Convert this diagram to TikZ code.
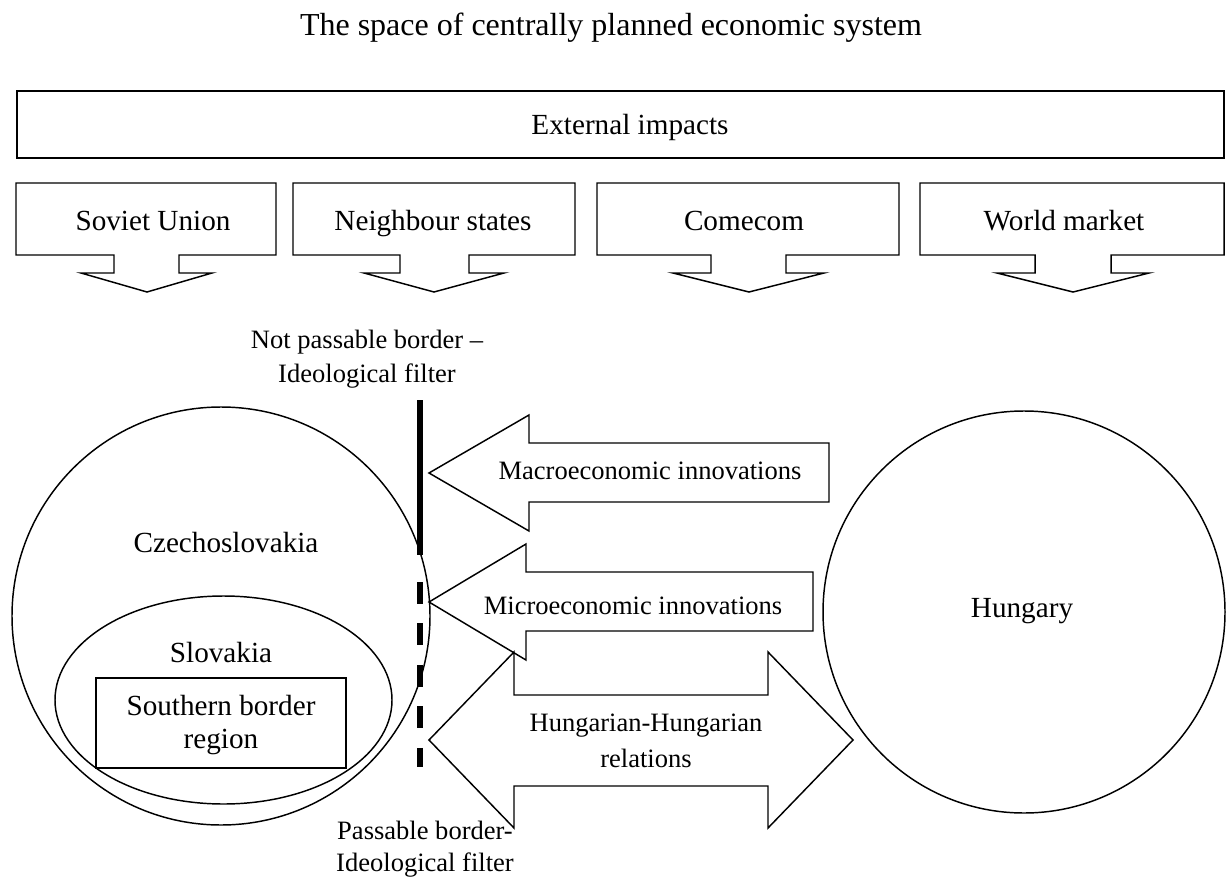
\documentclass[tikz,border=0pt]{standalone}
\usepackage{fontspec}
\setmainfont{Liberation Serif}
\usetikzlibrary{shapes.geometric}
\newcommand\titlesz{\fontsize{24}{28}\selectfont}
\newcommand\mainsz{\fontsize{21.9}{26}\selectfont}
\newcommand\smallsz{\fontsize{19.9}{24}\selectfont}
\tikzset{
  outl/.style={draw, line width=1.1pt, line join=miter},
  lblmain/.style={anchor=base, inner sep=0pt, font=\mainsz},
  lblsmall/.style={anchor=base, inner sep=0pt, font=\smallsz},
  wall/.style={line width=4.5pt},
  dashwall/.style={line width=4.5pt, dash pattern=on 16.5pt off 14.6pt},
}
\begin{document}
\begin{tikzpicture}[x=0.75pt,y=-0.75pt]
\useasboundingbox (0,0) rectangle (1226,877);
% title
\node[anchor=base, inner sep=0pt, font=\titlesz] (title) at (611,36) {The space of centrally planned economic system};
% external impacts
\draw[outl] (17,91) rectangle (1224,158);
\node[lblmain] (ext) at (630,135) {External impacts};
% callouts
\draw[outl] (16,183) -- (276,183) -- (276,255) -- (179,255) -- (179,273) -- (212,273) -- (147,292) -- (81,273) -- (114,273) -- (114,255) -- (16,255) -- cycle;
\node[lblmain] (su) at (153,230) {Soviet Union};
\draw[outl] (293,183) -- (575,183) -- (575,255) -- (469,255) -- (469,273) -- (504,273) -- (434,292) -- (364,273) -- (400,273) -- (400,255) -- (293,255) -- cycle;
\node[lblmain] (ns) at (433,230) {Neighbour states};
\draw[outl] (597,183) -- (899,183) -- (899,255) -- (786,255) -- (786,273) -- (824,273) -- (749,292) -- (673,273) -- (711,273) -- (711,255) -- (597,255) -- cycle;
\node[lblmain] (cm) at (744,230) {Comecom};
\draw[outl] (920,183) -- (1224,183) -- (1224,255) -- (1111,255) -- (1111,273) -- (1149,273) -- (1073,292) -- (997,273) -- (1035,273) -- (1035,255) -- (920,255) -- cycle;
\node[lblmain] (wm) at (1064,230) {World market};
% border labels
\node[lblsmall] (np1) at (367,348) {Not passable border –};
\node[lblsmall] (np2) at (367,382) {Ideological filter};
\node[lblsmall] (pb1) at (425,839) {Passable border-};
\node[lblsmall] (pb2) at (425,871) {Ideological filter};
% Czechoslovakia
\node[outl, circle, minimum size=313.5pt, inner sep=0pt] (cz) at (221,616) {};
\node[lblmain] (czl) at (226,552) {Czechoslovakia};
\node[outl, ellipse, minimum width=252.75pt, minimum height=156pt, inner sep=0pt] (sk) at (223.5,700) {};
\node[lblmain] (skl) at (221,662) {Slovakia};
\draw[outl] (96,678) rectangle (346,768);
\node[lblmain] (sb1) at (221,715) {Southern border};
\node[lblmain] (sb2) at (221,748) {region};
% borders
\coordinate (w1) at (419.5,400);
\coordinate (w2) at (419.5,555);
\coordinate (w3) at (419.5,582);
\coordinate (w4) at (419.5,767);
\draw[wall] (w1) -- (w2);
\draw[dashwall] (w3) -- (w4);
% macro arrow
\draw[outl] (429,473) -- (529,415) -- (529,443) -- (829,443) -- (829,502) -- (529,502) -- (529,531) -- cycle;
\node[lblsmall] (mac) at (650,479) {Macroeconomic innovations};
% micro arrow
\draw[outl] (429,602) -- (526,544) -- (526,572) -- (813,572) -- (813,631) -- (526,631) -- (526,660) -- cycle;
\node[lblsmall] (mic) at (633,614) {Microeconomic innovations};
% double arrow
\draw[outl] (429,740) -- (514,652) -- (514,695) -- (768,695) -- (768,652) -- (853,740) -- (768,828) -- (768,786) -- (514,786) -- (514,828) -- cycle;
\node[lblsmall] (hh1) at (646,731) {Hungarian-Hungarian};
\node[lblsmall] (hh2) at (646,767) {relations};
% Hungary
\node[outl, circle, minimum size=301.5pt, inner sep=0pt] (hu) at (1024,612) {};
\node[lblmain] (hul) at (1022,617) {Hungary};
\end{tikzpicture}
\end{document}
